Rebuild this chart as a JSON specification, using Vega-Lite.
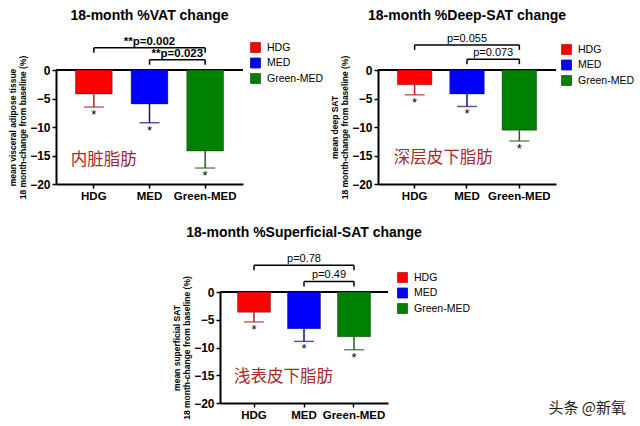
{
  "$schema": "https://vega.github.io/schema/vega-lite/v6.json",
  "background": "white",
  "padding": {"left": 8, "top": 8, "right": 0, "bottom": 0},
  "title": {"text": "头条 @新氧", "orient": "bottom", "anchor": "end", "frame": "bounds", "offset": -20, "dx": -9, "font": "Noto Sans CJK SC", "fontSize": 15, "fontWeight": "normal", "color": "#222"},
  "config": {
    "font": "Liberation Sans",
    "view": {"stroke": null},
    "axis": {"domainColor": "#000", "domainWidth": 2, "tickColor": "#000", "tickWidth": 1.5, "tickSize": 4, "labelColor": "#000", "labelFontWeight": "bold", "labelFontSize": 12, "labelOverlap": false, "grid": false, "titleColor": "#000", "titleFontSize": 8.5, "titleFontWeight": "bold", "titleLineHeight": 10.5, "titlePadding": 2, "labelPadding": 2},
    "axisY": {"tickCount": 5},
    "legend": {"orient": "none", "symbolType": "square", "symbolSize": 100, "labelFontSize": 10.5, "labelColor": "#000", "rowPadding": 0.5, "labelOffset": 6, "symbolStrokeWidth": 0.8},
    "title": {"fontSize": 14, "fontWeight": "bold", "color": "#000", "anchor": "middle", "frame": "group"}
  },
  "datasets": {
    "bars": [
      {"panel": "VAT", "group": "HDG", "mean": -4.2, "lo": -6.5},
      {"panel": "VAT", "group": "MED", "mean": -5.95, "lo": -9.25},
      {"panel": "VAT", "group": "Green-MED", "mean": -14.2, "lo": -17.2},
      {"panel": "DEEP", "group": "HDG", "mean": -2.6, "lo": -4.35},
      {"panel": "DEEP", "group": "MED", "mean": -4.2, "lo": -6.4},
      {"panel": "DEEP", "group": "Green-MED", "mean": -10.55, "lo": -12.45},
      {"panel": "SUP", "group": "HDG", "mean": -3.65, "lo": -5.4},
      {"panel": "SUP", "group": "MED", "mean": -6.6, "lo": -8.9},
      {"panel": "SUP", "group": "Green-MED", "mean": -8.05, "lo": -10.4}
    ],
    "brackets": [
      {"panel": "VAT", "span": "wide", "from": "HDG", "to": "Green-MED", "level": 3.9, "label": "**p=0.002"},
      {"panel": "VAT", "span": "adjacent", "from": "MED", "to": "Green-MED", "level": 1.8, "label": "**p=0.023"},
      {"panel": "DEEP", "span": "wide", "from": "HDG", "to": "Green-MED", "level": 4.4, "label": "p=0.055"},
      {"panel": "DEEP", "span": "adjacent", "from": "MED", "to": "Green-MED", "level": 1.9, "label": "p=0.073"},
      {"panel": "SUP", "span": "wide", "from": "HDG", "to": "Green-MED", "level": 4.8, "label": "p=0.78"},
      {"panel": "SUP", "span": "adjacent", "from": "MED", "to": "Green-MED", "level": 1.9, "label": "p=0.49"}
    ],
    "notes": [
      {"panel": "VAT", "anchor": "HDG", "y": -15.8, "text": "内脏脂肪"},
      {"panel": "DEEP", "anchor": "HDG", "y": -15.4, "text": "深层皮下脂肪"},
      {"panel": "SUP", "anchor": "HDG", "y": -15.3, "text": "浅表皮下脂肪"}
    ]
  },
  "center": true,
  "spacing": 24,
  "resolve": {"scale": {"color": "independent", "fill": "independent", "stroke": "independent"}, "legend": {"color": "independent"}},
  "vconcat": [
    {
      "bounds": "flush",
      "spacing": 135,
      "resolve": {"scale": {"color": "independent", "fill": "independent", "stroke": "independent"}, "legend": {"color": "independent"}},
      "hconcat": [
        {
          "width": 187, "height": 114,
          "title": {"text": "18-month %VAT change", "offset": 13},
          "layer": [
            {"data": {"values": [{}]}, "mark": {"type": "rule", "color": "#000", "strokeWidth": 2},
             "encoding": {"y": {"datum": 0, "type": "quantitative", "scale": {"domain": [-20, 0], "nice": false, "zero": false}, "axis": {"values": [0, -5, -10, -15, -20]}}}},
            {"data": {"name": "bars"}, "transform": [{"filter": "datum.panel === 'VAT'"}],
             "mark": {"type": "bar", "stroke": "#000", "strokeOpacity": 0.35, "strokeWidth": 1},
             "encoding": {
               "x": {"field": "group", "type": "nominal", "scale": {"domain": ["HDG", "MED", "Green-MED"], "paddingInner": 0.34, "paddingOuter": 0.35}, "axis": {"title": null, "labelAngle": 0, "labelFontSize": 11.5}},
               "y": {"field": "mean", "type": "quantitative", "scale": {"domain": [-20, 0], "nice": false, "zero": false}, "axis": {"values": [0, -5, -10, -15, -20], "title": ["mean visceral adipose tissue", "18 month-change from baseline (%)"]}},
               "color": {"field": "group", "type": "nominal", "scale": {"domain": ["HDG", "MED", "Green-MED"], "range": ["#ff0000", "#0000ff", "#008000"]}, "legend": {"title": null, "legendX": 194, "legendY": -28}}
             }},
            {"data": {"name": "bars"}, "transform": [{"filter": "datum.panel === 'VAT'"}],
             "mark": {"type": "rule", "strokeWidth": 1.5},
             "encoding": {
               "x": {"field": "group", "type": "nominal"},
               "y": {"field": "mean", "type": "quantitative", "axis": {"values": [0, -5, -10, -15, -20]}},
               "y2": {"field": "lo"},
               "stroke": {"field": "group", "type": "nominal", "scale": {"domain": ["HDG", "MED", "Green-MED"], "range": ["#b02020", "#101080", "#2a5a2a"]}, "legend": null}
             }},
            {"data": {"name": "bars"}, "transform": [{"filter": "datum.panel === 'VAT'"}],
             "mark": {"type": "tick", "orient": "horizontal", "size": 20, "thickness": 1.5},
             "encoding": {
               "x": {"field": "group", "type": "nominal"},
               "y": {"field": "lo", "type": "quantitative", "axis": {"values": [0, -5, -10, -15, -20]}},
               "fill": {"field": "group", "type": "nominal", "scale": {"domain": ["HDG", "MED", "Green-MED"], "range": ["#b02020", "#101080", "#2a5a2a"]}, "legend": null}
             }},
            {"data": {"name": "bars"}, "transform": [{"filter": "datum.panel === 'VAT'"}],
             "mark": {"type": "text", "text": "*", "baseline": "top", "dy": 2, "fontSize": 13, "color": "#000"},
             "encoding": {
               "x": {"field": "group", "type": "nominal"},
               "y": {"field": "lo", "type": "quantitative", "axis": {"values": [0, -5, -10, -15, -20]}}
             }},
            {"data": {"name": "brackets"}, "transform": [{"filter": "datum.panel === 'VAT'"}],
             "mark": {"type": "rule", "color": "#000", "strokeWidth": 1.5},
             "encoding": {
               "x": {"field": "from", "type": "nominal"},
               "x2": {"field": "to"},
               "y": {"field": "level", "type": "quantitative", "axis": {"values": [0, -5, -10, -15, -20]}}
             }},
            {"data": {"name": "brackets"}, "transform": [{"filter": "datum.panel === 'VAT'"}, {"fold": ["from", "to"], "as": ["end", "grp"]}],
             "mark": {"type": "rule", "color": "#000", "strokeWidth": 1.5, "y2Offset": 5},
             "encoding": {
               "x": {"field": "grp", "type": "nominal"},
               "y": {"field": "level", "type": "quantitative", "axis": {"values": [0, -5, -10, -15, -20]}},
               "y2": {"field": "level"}
             }},
            {"data": {"name": "brackets"}, "transform": [{"filter": "datum.panel === 'VAT' && datum.span === 'wide'"}],
             "mark": {"type": "text", "baseline": "bottom", "dy": -1, "fontSize": 11.5, "fontWeight": "bold", "color": "#000"},
             "encoding": {
               "x": {"field": "from", "type": "nominal", "bandPosition": 2.015},
               "y": {"field": "level", "type": "quantitative", "axis": {"values": [0, -5, -10, -15, -20]}},
               "text": {"field": "label"}
             }},
            {"data": {"name": "brackets"}, "transform": [{"filter": "datum.panel === 'VAT' && datum.span === 'adjacent'"}],
             "mark": {"type": "text", "baseline": "bottom", "dy": -0.5, "fontSize": 11.5, "fontWeight": "bold", "color": "#000"},
             "encoding": {
               "x": {"field": "from", "type": "nominal", "bandPosition": 1.258},
               "y": {"field": "level", "type": "quantitative", "axis": {"values": [0, -5, -10, -15, -20]}},
               "text": {"field": "label"}
             }},
            {"data": {"name": "notes"}, "transform": [{"filter": "datum.panel === 'VAT'"}],
             "mark": {"type": "text", "align": "left", "baseline": "middle", "dx": -23, "fontSize": 16.5, "font": "Noto Sans CJK SC", "color": "#a52a2a"},
             "encoding": {
               "x": {"field": "anchor", "type": "nominal"},
               "y": {"field": "y", "type": "quantitative", "axis": {"values": [0, -5, -10, -15, -20]}},
               "text": {"field": "text"}
             }}
          ]
        },
        {
          "width": 178, "height": 114,
          "title": {"text": "18-month %Deep-SAT change", "offset": 10},
          "layer": [
            {"data": {"values": [{}]}, "mark": {"type": "rule", "color": "#000", "strokeWidth": 2},
             "encoding": {"y": {"datum": 0, "type": "quantitative", "scale": {"domain": [-20, 0], "nice": false, "zero": false}, "axis": {"values": [0, -5, -10, -15, -20]}}}},
            {"data": {"name": "bars"}, "transform": [{"filter": "datum.panel === 'DEEP'"}],
             "mark": {"type": "bar", "stroke": "#000", "strokeOpacity": 0.35, "strokeWidth": 1},
             "encoding": {
               "x": {"field": "group", "type": "nominal", "scale": {"domain": ["HDG", "MED", "Green-MED"], "paddingInner": 0.34, "paddingOuter": 0.37}, "axis": {"title": null, "labelAngle": 0, "labelFontSize": 11.5}},
               "y": {"field": "mean", "type": "quantitative", "scale": {"domain": [-20, 0], "nice": false, "zero": false}, "axis": {"values": [0, -5, -10, -15, -20], "title": ["mean deep SAT", "18 month-change from baseline (%)"]}},
               "color": {"field": "group", "type": "nominal", "scale": {"domain": ["HDG", "MED", "Green-MED"], "range": ["#ff0000", "#0000ff", "#008000"]}, "legend": {"title": null, "legendX": 183, "legendY": -26}}
             }},
            {"data": {"name": "bars"}, "transform": [{"filter": "datum.panel === 'DEEP'"}],
             "mark": {"type": "rule", "strokeWidth": 1.5},
             "encoding": {
               "x": {"field": "group", "type": "nominal"},
               "y": {"field": "mean", "type": "quantitative", "axis": {"values": [0, -5, -10, -15, -20]}},
               "y2": {"field": "lo"},
               "stroke": {"field": "group", "type": "nominal", "scale": {"domain": ["HDG", "MED", "Green-MED"], "range": ["#b02020", "#101080", "#2a5a2a"]}, "legend": null}
             }},
            {"data": {"name": "bars"}, "transform": [{"filter": "datum.panel === 'DEEP'"}],
             "mark": {"type": "tick", "orient": "horizontal", "size": 20, "thickness": 1.5},
             "encoding": {
               "x": {"field": "group", "type": "nominal"},
               "y": {"field": "lo", "type": "quantitative", "axis": {"values": [0, -5, -10, -15, -20]}},
               "fill": {"field": "group", "type": "nominal", "scale": {"domain": ["HDG", "MED", "Green-MED"], "range": ["#b02020", "#101080", "#2a5a2a"]}, "legend": null}
             }},
            {"data": {"name": "bars"}, "transform": [{"filter": "datum.panel === 'DEEP'"}],
             "mark": {"type": "text", "text": "*", "baseline": "top", "dy": 2, "fontSize": 13, "color": "#000"},
             "encoding": {
               "x": {"field": "group", "type": "nominal"},
               "y": {"field": "lo", "type": "quantitative", "axis": {"values": [0, -5, -10, -15, -20]}}
             }},
            {"data": {"name": "brackets"}, "transform": [{"filter": "datum.panel === 'DEEP'"}],
             "mark": {"type": "rule", "color": "#000", "strokeWidth": 1.5},
             "encoding": {
               "x": {"field": "from", "type": "nominal"},
               "x2": {"field": "to"},
               "y": {"field": "level", "type": "quantitative", "axis": {"values": [0, -5, -10, -15, -20]}}
             }},
            {"data": {"name": "brackets"}, "transform": [{"filter": "datum.panel === 'DEEP'"}, {"fold": ["from", "to"], "as": ["end", "grp"]}],
             "mark": {"type": "rule", "color": "#000", "strokeWidth": 1.5, "y2Offset": 5},
             "encoding": {
               "x": {"field": "grp", "type": "nominal"},
               "y": {"field": "level", "type": "quantitative", "axis": {"values": [0, -5, -10, -15, -20]}},
               "y2": {"field": "level"}
             }},
            {"data": {"name": "brackets"}, "transform": [{"filter": "datum.panel === 'DEEP' && datum.span === 'wide'"}],
             "mark": {"type": "text", "baseline": "bottom", "dy": -1, "fontSize": 11, "color": "#000"},
             "encoding": {
               "x": {"field": "from", "type": "nominal", "bandPosition": 2.015},
               "y": {"field": "level", "type": "quantitative", "axis": {"values": [0, -5, -10, -15, -20]}},
               "text": {"field": "label"}
             }},
            {"data": {"name": "brackets"}, "transform": [{"filter": "datum.panel === 'DEEP' && datum.span === 'adjacent'"}],
             "mark": {"type": "text", "baseline": "bottom", "dy": -1, "fontSize": 11, "color": "#000"},
             "encoding": {
               "x": {"field": "from", "type": "nominal", "bandPosition": 1.258},
               "y": {"field": "level", "type": "quantitative", "axis": {"values": [0, -5, -10, -15, -20]}},
               "text": {"field": "label"}
             }},
            {"data": {"name": "notes"}, "transform": [{"filter": "datum.panel === 'DEEP'"}],
             "mark": {"type": "text", "align": "left", "baseline": "middle", "dx": -21, "fontSize": 16.5, "font": "Noto Sans CJK SC", "color": "#a52a2a"},
             "encoding": {
               "x": {"field": "anchor", "type": "nominal"},
               "y": {"field": "y", "type": "quantitative", "axis": {"values": [0, -5, -10, -15, -20]}},
               "text": {"field": "text"}
             }}
          ]
        }
      ]
    },
    {
      "width": 168, "height": 111,
      "title": {"text": "18-month %Superficial-SAT change", "offset": 13},
      "layer": [
        {"data": {"values": [{}]}, "mark": {"type": "rule", "color": "#000", "strokeWidth": 2},
         "encoding": {"y": {"datum": 0, "type": "quantitative", "scale": {"domain": [-20, 0], "nice": false, "zero": false}, "axis": {"values": [0, -5, -10, -15, -20]}}}},
        {"data": {"name": "bars"}, "transform": [{"filter": "datum.panel === 'SUP'"}],
         "mark": {"type": "bar", "stroke": "#000", "strokeOpacity": 0.35, "strokeWidth": 1},
         "encoding": {
           "x": {"field": "group", "type": "nominal", "scale": {"domain": ["HDG", "MED", "Green-MED"], "paddingInner": 0.34, "paddingOuter": 0.35}, "axis": {"title": null, "labelAngle": 0, "labelFontSize": 11.5}},
           "y": {"field": "mean", "type": "quantitative", "scale": {"domain": [-20, 0], "nice": false, "zero": false}, "axis": {"values": [0, -5, -10, -15, -20], "title": ["mean superficial SAT", "18 month-change from baseline (%)"]}},
           "color": {"field": "group", "type": "nominal", "scale": {"domain": ["HDG", "MED", "Green-MED"], "range": ["#ff0000", "#0000ff", "#008000"]}, "legend": {"title": null, "legendX": 177, "legendY": -20}}
         }},
        {"data": {"name": "bars"}, "transform": [{"filter": "datum.panel === 'SUP'"}],
         "mark": {"type": "rule", "strokeWidth": 1.5},
         "encoding": {
           "x": {"field": "group", "type": "nominal"},
           "y": {"field": "mean", "type": "quantitative", "axis": {"values": [0, -5, -10, -15, -20]}},
           "y2": {"field": "lo"},
           "stroke": {"field": "group", "type": "nominal", "scale": {"domain": ["HDG", "MED", "Green-MED"], "range": ["#b02020", "#101080", "#2a5a2a"]}, "legend": null}
         }},
        {"data": {"name": "bars"}, "transform": [{"filter": "datum.panel === 'SUP'"}],
         "mark": {"type": "tick", "orient": "horizontal", "size": 20, "thickness": 1.5},
         "encoding": {
           "x": {"field": "group", "type": "nominal"},
           "y": {"field": "lo", "type": "quantitative", "axis": {"values": [0, -5, -10, -15, -20]}},
           "fill": {"field": "group", "type": "nominal", "scale": {"domain": ["HDG", "MED", "Green-MED"], "range": ["#b02020", "#101080", "#2a5a2a"]}, "legend": null}
         }},
        {"data": {"name": "bars"}, "transform": [{"filter": "datum.panel === 'SUP'"}],
         "mark": {"type": "text", "text": "*", "baseline": "top", "dy": 2, "fontSize": 13, "color": "#000"},
         "encoding": {
           "x": {"field": "group", "type": "nominal"},
           "y": {"field": "lo", "type": "quantitative", "axis": {"values": [0, -5, -10, -15, -20]}}
         }},
        {"data": {"name": "brackets"}, "transform": [{"filter": "datum.panel === 'SUP'"}],
         "mark": {"type": "rule", "color": "#000", "strokeWidth": 1.5},
         "encoding": {
           "x": {"field": "from", "type": "nominal"},
           "x2": {"field": "to"},
           "y": {"field": "level", "type": "quantitative", "axis": {"values": [0, -5, -10, -15, -20]}}
         }},
        {"data": {"name": "brackets"}, "transform": [{"filter": "datum.panel === 'SUP'"}, {"fold": ["from", "to"], "as": ["end", "grp"]}],
         "mark": {"type": "rule", "color": "#000", "strokeWidth": 1.5, "y2Offset": 5},
         "encoding": {
           "x": {"field": "grp", "type": "nominal"},
           "y": {"field": "level", "type": "quantitative", "axis": {"values": [0, -5, -10, -15, -20]}},
           "y2": {"field": "level"}
         }},
        {"data": {"name": "brackets"}, "transform": [{"filter": "datum.panel === 'SUP' && datum.span === 'wide'"}],
         "mark": {"type": "text", "baseline": "bottom", "dy": -1, "fontSize": 11, "color": "#000"},
         "encoding": {
           "x": {"field": "from", "type": "nominal", "bandPosition": 2.015},
           "y": {"field": "level", "type": "quantitative", "axis": {"values": [0, -5, -10, -15, -20]}},
           "text": {"field": "label"}
         }},
        {"data": {"name": "brackets"}, "transform": [{"filter": "datum.panel === 'SUP' && datum.span === 'adjacent'"}],
         "mark": {"type": "text", "baseline": "bottom", "dy": -1, "fontSize": 11, "color": "#000"},
         "encoding": {
           "x": {"field": "from", "type": "nominal", "bandPosition": 1.258},
           "y": {"field": "level", "type": "quantitative", "axis": {"values": [0, -5, -10, -15, -20]}},
           "text": {"field": "label"}
         }},
        {"data": {"name": "notes"}, "transform": [{"filter": "datum.panel === 'SUP'"}],
         "mark": {"type": "text", "align": "left", "baseline": "middle", "dx": -20, "fontSize": 16.5, "font": "Noto Sans CJK SC", "color": "#a52a2a"},
         "encoding": {
           "x": {"field": "anchor", "type": "nominal"},
           "y": {"field": "y", "type": "quantitative", "axis": {"values": [0, -5, -10, -15, -20]}},
           "text": {"field": "text"}
         }}
      ]
    }
  ]
}
